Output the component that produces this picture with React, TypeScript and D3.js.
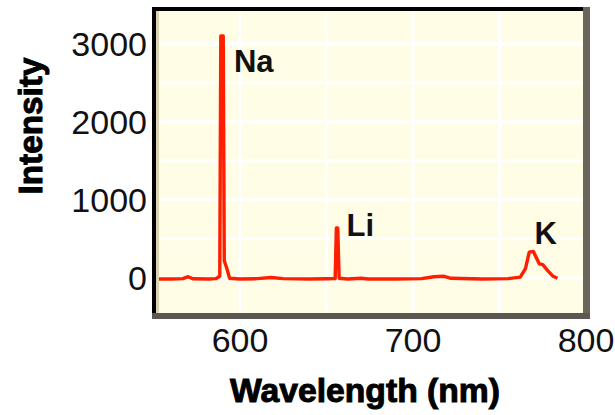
import React from "react";
import * as d3 from "d3";

const wavelengths = [
  550, 560, 567, 570, 573, 582, 586, 588.3, 588.9, 590.3, 590.9, 592.4, 594,
  600, 610, 618, 625, 640, 650, 655, 655.7, 656.5, 657.3, 662, 670, 674, 690,
  705, 712, 718, 722, 740, 755, 762, 765, 767.2, 769.5, 771.5, 773, 775, 778,
  781, 783.5,
];
const intensities = [
  -15, -15, -10, 15, -12, -15, -10, 20, 3100, 3100, 220, 120, -5,
  -15, -10, 5, -10, -15, -12, -10, 640, 640, -5, -15, -5, -15, -15,
  -10, 15, 20, -5, -15, -10, 10, 120, 330, 340, 250, 180, 170, 90,
  20, -5,
];
const xTicks = [600, 700, 800];
const xGrid = [600, 650, 700, 750];
const yTicks = [0, 1000, 2000, 3000];
const yGrid = [0, 500, 1000, 1500, 2000, 2500, 3000];
const peakLabels = ["Na", "Li", "K"];
const peakLabelWl = [596.5, 661.6, 770.3];
const peakLabelVal = [2640, 537, 434];

const W = 615;
const H = 415;
const PL = 156;
const PR = 583;
const PT = 11;
const PB = 313;

export default function App() {
  const x = d3.scaleLinear().domain([550, 800]).range([153.5, 586]);
  const y = d3.scaleLinear().domain([-450, 3420]).range([PB, PT]);
  const pts: [number, number][] = wavelengths.map((w, i) => [w, intensities[i]]);
  const line = d3
    .line<[number, number]>()
    .x((d) => x(d[0]))
    .y((d) => y(d[1]))
    .curve(d3.curveLinear);
  const font = "'Liberation Sans', Arial, Helvetica, sans-serif";
  return (
    <svg
      width={W}
      height={H}
      style={{ position: "absolute", left: 0, top: 0, background: "#fff" }}
    >
      <defs>
        <clipPath id="plotClip">
          <rect x={PL} y={PT} width={PR - PL} height={PB - PT} />
        </clipPath>
      </defs>
      <rect x={0} y={0} width={W} height={H} fill="#fff" />
      <rect x={PL} y={PT} width={PR - PL} height={PB - PT} fill="#fffde6" />
      <g clipPath="url(#plotClip)">
        {xGrid.map((v) => (
          <line key={"xg" + v} x1={x(v)} x2={x(v)} y1={PT} y2={PB} stroke="#fff" strokeWidth={3} />
        ))}
        {yGrid.map((v) => (
          <line key={"yg" + v} x1={PL} x2={PR} y1={y(v)} y2={y(v)} stroke="#fff" strokeWidth={3} />
        ))}
        <path d={line(pts) || ""} fill="none" stroke="#ff1e00" strokeWidth={3.4} strokeLinejoin="round" />
      </g>
      {/* frame */}
      <rect x={156} y={11} width={3} height={PB - PT} fill="#dcd2b4" />
      <rect x={152} y={7} width={4} height={312} fill="#000" />
      <rect x={152} y={7} width={438} height={4} fill="#000" />
      <rect x={583} y={7} width={7} height={312} fill="#6a645b" />
      <rect x={152} y={313} width={438} height={6} fill="#5c5750" />
      {/* peak labels */}
      {peakLabels.map((t, i) => (
        <text
          key={t}
          x={x(peakLabelWl[i])}
          y={y(peakLabelVal[i])}
          fontFamily={font}
          fontWeight="bold"
          fontSize={31}
          fill="#111"
        >
          {t}
        </text>
      ))}
      {/* y tick labels */}
      {yTicks.map((v) => (
        <text
          key={"yt" + v}
          x={147}
          y={y(v) + 12}
          textAnchor="end"
          fontFamily={font}
          fontSize={34}
          fill="#111"
        >
          {v}
        </text>
      ))}
      {/* x tick labels */}
      {xTicks.map((v) => (
        <text
          key={"xt" + v}
          x={x(v)}
          y={352}
          textAnchor="middle"
          fontFamily={font}
          fontSize={34}
          fill="#111"
        >
          {v}
        </text>
      ))}
      <text
        x={365}
        y={402}
        textAnchor="middle"
        fontFamily={font}
        fontWeight="bold"
        fontSize={34}
        fill="#000"
        stroke="#000"
        strokeWidth={1}
        textLength={270}
        lengthAdjust="spacingAndGlyphs"
      >
        Wavelength (nm)
      </text>
      <text
        transform="translate(42,126) rotate(-90)"
        textAnchor="middle"
        fontFamily={font}
        fontWeight="bold"
        fontSize={34}
        fill="#000"
        stroke="#000"
        strokeWidth={1}
        textLength={137}
        lengthAdjust="spacingAndGlyphs"
      >
        Intensity
      </text>
    </svg>
  );
}
